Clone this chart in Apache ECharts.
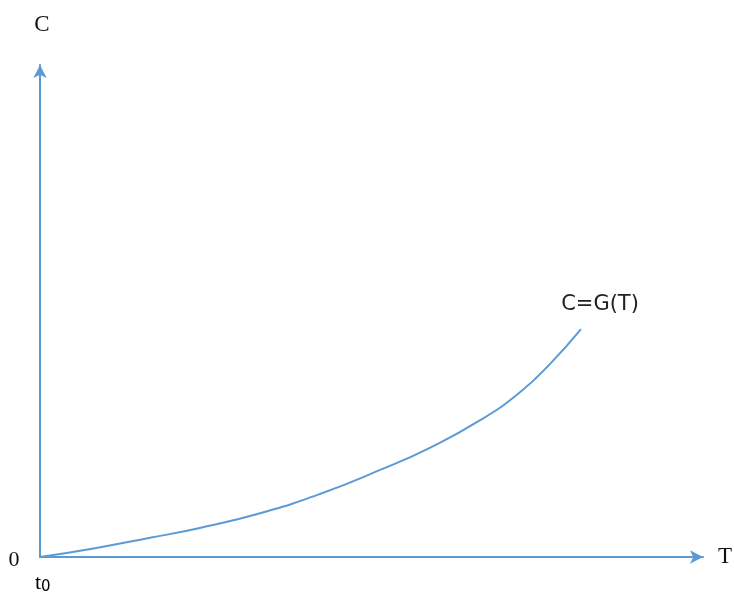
<!DOCTYPE html>
<html><head><meta charset="utf-8">
<script src="https://cdn.jsdelivr.net/npm/echarts@6/dist/echarts.min.js"></script>
<style>html,body{margin:0;padding:0;background:#fff}#c{width:734px;height:598px}</style>
</head><body><div id="c"></div>
<script>
const tValues = [0, 8.3, 16.6, 24.1, 33.2, 42.2, 51.3, 58.8, 66.4, 72.4, 76.9, 81.6];
const cValues = [0, 1.8, 3.9, 5.9, 8.9, 12.8, 17.7, 22.2, 27.8, 33.5, 39.2, 46.3];
const curveLabel = 'C=G(T)';
const axisNames = {x: 'T', y: 'C'};

const chart = echarts.init(document.getElementById('c'));
const blue = '#5B9BD5';
chart.setOption({
  animation: false,
  grid: {left: 40, right: 31, top: 65, bottom: 41},
  xAxis: {type: 'value', min: 0, max: 100,
    axisLine: {lineStyle: {color: blue, width: 2}, symbol: ['none', 'arrow'], symbolSize: [10, 13]},
    axisTick: {show: false}, axisLabel: {show: false}, splitLine: {show: false}},
  yAxis: {type: 'value', min: 0, max: 100,
    axisLine: {lineStyle: {color: blue, width: 2}, symbol: ['none', 'arrow'], symbolSize: [10, 13]},
    axisTick: {show: false}, axisLabel: {show: false}, splitLine: {show: false}},
  series: [{
    type: 'line', smooth: true, showSymbol: false,
    data: tValues.map((t, i) => [t, cValues[i]]),
    lineStyle: {color: blue, width: 2}
  }],
  graphic: [
    {type: 'text', x: 600, y: 305, style: {text: curveLabel, font: '21px "DejaVu Sans"', fill: '#222',
      textAlign: 'center', textVerticalAlign: 'middle'}},
    {type: 'text', x: 42, y: 25, style: {text: axisNames.y, font: '23px "Liberation Serif"', fill: '#111',
      textAlign: 'center', textVerticalAlign: 'middle'}},
    {type: 'text', x: 725, y: 557, style: {text: axisNames.x, font: '23px "Liberation Serif"', fill: '#111',
      textAlign: 'center', textVerticalAlign: 'middle'}},
    {type: 'text', x: 14, y: 560, style: {text: '0', font: '22px "Liberation Serif"', fill: '#111',
      textAlign: 'center', textVerticalAlign: 'middle'}},
    {type: 'text', left: 35, top: 572, style: {text: '{a|t}{b|0}', rich: {
      a: {fontFamily: 'Liberation Serif', fontSize: 22, color: '#111'},
      b: {fontFamily: 'DejaVu Sans', fontSize: 15, color: '#111', padding: [8, 0, 0, 0]}}}}
  ]
});
</script></body></html>
